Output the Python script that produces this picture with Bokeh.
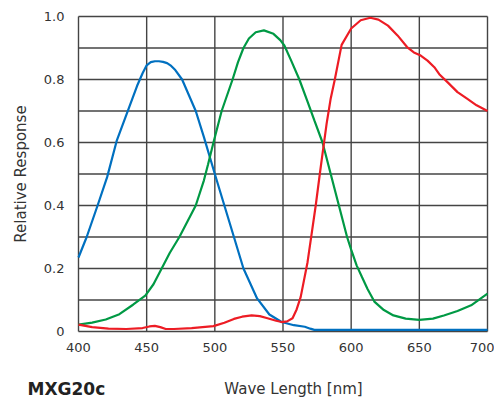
from bokeh.plotting import figure
from bokeh.models import Range1d, FixedTicker, Label, LinearAxis
from bokeh.embed import file_html
from bokeh.resources import INLINE

# ---- data ----
x_ticks = [400, 450, 500, 550, 600, 650, 700]
y_ticks = [0.0, 0.2, 0.4, 0.6, 0.8, 1.0]
y_tick_labels = ["0", "0.2", "0.4", "0.6", "0.8", "1.0"]
y_grid = [0.0, 0.1, 0.2, 0.3, 0.4, 0.5, 0.6, 0.7, 0.8, 0.9, 1.0]

wl_blue = [400, 406, 414, 421, 428, 437, 443, 447, 450, 453, 456, 459, 462, 465, 468,
           471, 476, 481, 486, 492, 500, 507, 514, 521, 531, 540, 549, 558, 566, 570,
           573, 600, 650, 700]
v_blue = [0.235, 0.30, 0.40, 0.49, 0.605, 0.71, 0.78, 0.82, 0.845, 0.855, 0.858, 0.858,
          0.856, 0.852, 0.843, 0.83, 0.80, 0.75, 0.70, 0.617, 0.50, 0.40, 0.30, 0.20,
          0.105, 0.054, 0.03, 0.02, 0.015, 0.009, 0.005, 0.005, 0.005, 0.005]

wl_green = [400, 410, 420, 430, 440, 449, 455, 461, 467, 474, 480, 486, 492, 495, 499,
            505, 513, 517, 521, 525, 530, 536, 543, 548, 551, 556, 562, 568, 573, 579,
            585, 591, 597, 600, 604, 608, 612, 617, 624, 631, 640, 650, 660, 668, 678,
            688, 700]
v_green = [0.022, 0.028, 0.038, 0.055, 0.085, 0.114, 0.15, 0.20, 0.25, 0.30, 0.35, 0.40,
           0.48, 0.53, 0.60, 0.70, 0.80, 0.855, 0.90, 0.93, 0.95, 0.956, 0.945, 0.925,
           0.908, 0.86, 0.80, 0.73, 0.67, 0.60, 0.50, 0.40, 0.30, 0.26, 0.21, 0.172,
           0.135, 0.095, 0.068, 0.051, 0.041, 0.037, 0.041, 0.051, 0.065, 0.083, 0.12]

wl_red = [400, 410, 422, 435, 447, 452, 456, 460, 464, 470, 483, 499, 507, 514, 520,
          527, 533, 538, 545, 549, 553, 557, 560, 563, 568, 571, 574, 577, 579, 582,
          585, 588, 593, 600, 607, 614, 620, 627, 634, 641, 646, 651, 656, 661, 665,
          671, 678, 685, 692, 700]
v_red = [0.022, 0.014, 0.009, 0.008, 0.011, 0.016, 0.018, 0.014, 0.008, 0.008, 0.011,
         0.017, 0.028, 0.04, 0.047, 0.051, 0.049, 0.043, 0.034, 0.03, 0.032, 0.042, 0.07,
         0.11, 0.22, 0.31, 0.40, 0.50, 0.565, 0.66, 0.74, 0.80, 0.91, 0.962, 0.988,
         0.996, 0.99, 0.971, 0.94, 0.903, 0.886, 0.876, 0.86, 0.839, 0.815, 0.79, 0.76,
         0.739, 0.718, 0.70]

title_text = "MXG20c"
x_label = "Wave Length [nm]"
y_label = "Relative Response"

FONT = "DejaVu Sans"
TEXT_COLOR = "#333333"
GRID_COLOR = "#444444"

# ---- layout (pixels) ----
W, H = 494, 400
LEFT, RIGHT, TOP, BOTTOM = 78, 487, 16, 331          # plot box in canvas pixels
x_lo, x_hi = x_ticks[0], x_ticks[-1]
y_lo, y_hi = y_grid[0], y_grid[-1]
kx = (RIGHT - LEFT) / (x_hi - x_lo)
ky = (BOTTOM - TOP) / (y_hi - y_lo)
x_range = Range1d(x_lo - LEFT / kx, x_hi + (W - RIGHT) / kx)
y_range = Range1d(y_lo - (H - BOTTOM) / ky, y_hi + TOP / ky)

p = figure(width=W, height=H, output_backend="svg", toolbar_location=None,
           x_range=x_range, y_range=y_range,
           x_axis_location=None, y_axis_location=None,
           min_border=0)
p.background_fill_color = "#ffffff"
p.border_fill_color = "#ffffff"
p.outline_line_color = None
p.grid.visible = False

# grid lines (incl. plot border) drawn from the tick arrays
p.segment(x0=x_ticks, y0=[y_lo] * len(x_ticks), x1=x_ticks, y1=[y_hi] * len(x_ticks),
          line_color=GRID_COLOR, line_width=1.4)
p.segment(x0=[x_lo] * len(y_grid), y0=y_grid, x1=[x_hi] * len(y_grid), y1=y_grid,
          line_color=GRID_COLOR, line_width=1.4)

# axes fixed at the plot box edges
xaxis = LinearAxis(ticker=FixedTicker(ticks=x_ticks), fixed_location=y_lo,
                   bounds=(x_lo, x_hi))
yaxis = LinearAxis(ticker=FixedTicker(ticks=y_ticks), fixed_location=x_lo,
                   bounds=(y_lo, y_hi), axis_label=y_label)
yaxis.major_label_overrides = {t: s for t, s in zip(y_ticks, y_tick_labels)}
for ax in (xaxis, yaxis):
    ax.axis_line_color = None
    ax.major_tick_line_color = None
    ax.minor_tick_line_color = None
    ax.major_tick_out = 0
    ax.major_tick_in = 0
    ax.major_label_text_font = FONT
    ax.major_label_text_font_size = "13px"
    ax.major_label_text_color = TEXT_COLOR
xaxis.major_label_standoff = 11
yaxis.major_label_standoff = 14
yaxis.axis_label_text_font = FONT
yaxis.axis_label_text_font_size = "15px"
yaxis.axis_label_text_font_style = "normal"
yaxis.axis_label_text_color = TEXT_COLOR
yaxis.axis_label_standoff = 11
p.add_layout(xaxis, "below")
p.add_layout(yaxis, "left")

# curves
p.line(wl_blue, v_blue, line_color="#0070C0", line_width=2.2)
p.line(wl_green, v_green, line_color="#009944", line_width=2.2)
p.line(wl_red, v_red, line_color="#ED1C24", line_width=2.2)

# bottom texts (screen units, from bottom-left of canvas)
p.add_layout(Label(x=293, y=H - 388, x_units="screen", y_units="screen", text=x_label,
                   text_align="center", text_baseline="middle", text_font=FONT,
                   text_font_size="15px", text_color=TEXT_COLOR))
p.add_layout(Label(x=27, y=H - 388, x_units="screen", y_units="screen", text=title_text,
                   text_align="left", text_baseline="middle", text_font=FONT,
                   text_font_size="17px", text_font_style="bold", text_color="#222222"))

open("out.html", "w").write(file_html(p, INLINE))
